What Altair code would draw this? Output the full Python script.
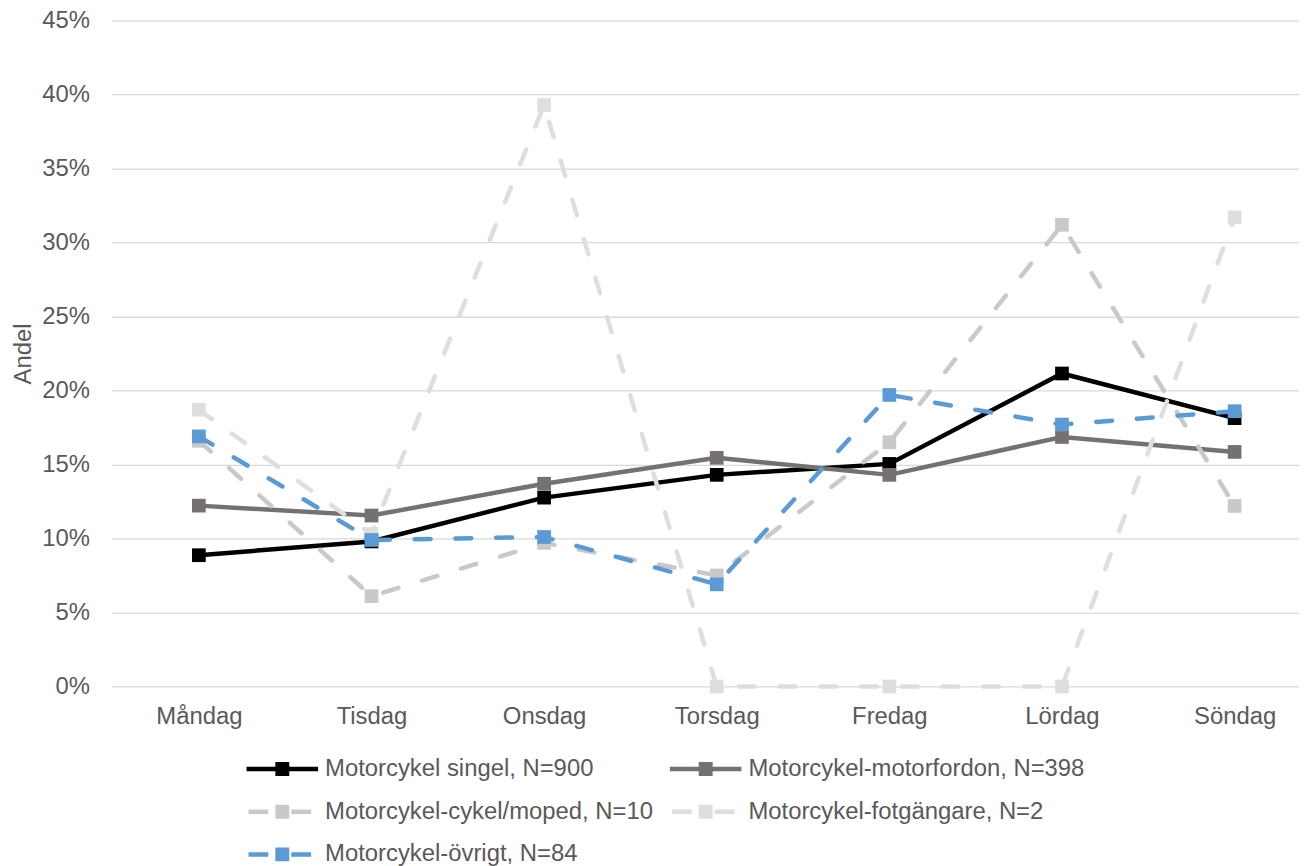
import altair as alt
import pandas as pd

days = ["Måndag", "Tisdag", "Onsdag", "Torsdag", "Fredag", "Lördag", "Söndag"]

series_names = [
    "Motorcykel singel, N=900",
    "Motorcykel-motorfordon, N=398",
    "Motorcykel-cykel/moped, N=10",
    "Motorcykel-fotgängare, N=2",
    "Motorcykel-övrigt, N=84",
]

singel = [0.0887, 0.098, 0.1276, 0.143, 0.1504, 0.2115, 0.1813]
motorfordon = [0.1222, 0.1155, 0.137, 0.1545, 0.143, 0.1686, 0.1585]
cykel_moped = [0.166, 0.061, 0.097, 0.075, 0.165, 0.312, 0.122]
fotgangare = [0.187, 0.103, 0.393, 0.0, 0.0, 0.0, 0.317]
ovrigt = [0.169, 0.099, 0.101, 0.069, 0.197, 0.177, 0.186]

colors = ["#000000", "#767171", "#C9C9C9", "#DEDEDE", "#5B9BD5"]
dashed = [False, False, True, True, True]

all_values = [singel, motorfordon, cykel_moped, fotgangare, ovrigt]
rows = []
for name, vals in zip(series_names, all_values):
    for d, v in zip(days, vals):
        rows.append({"dag": d, "serie": name, "andel": v})
df = pd.DataFrame(rows)

text_color = "#595959"
font = "Liberation Sans"

x_enc = alt.X(
    "dag:N",
    sort=days,
    scale=alt.Scale(type="point", domain=days, padding=0.44, align=0.576),
    axis=alt.Axis(
        title=None, labelAngle=0, labelFontSize=24, labelColor=text_color,
        labelFont=font, domain=False, ticks=False, labelPadding=18, grid=False,
    ),
)
y_enc = alt.Y(
    "andel:Q",
    scale=alt.Scale(domain=[0, 0.45], nice=False, zero=True),
    axis=alt.Axis(
        title="Andel", format=".0%", values=[i * 0.05 for i in range(10)],
        labelFontSize=24, labelColor=text_color, labelFont=font,
        titleFontSize=24, titleColor=text_color, titleFont=font,
        titleFontWeight="normal", titlePadding=6,
        domain=False, ticks=False, labelPadding=22,
        grid=True, gridColor="#D9D9D9", gridWidth=1.3,
    ),
)

layers = []
for name, col, dsh in zip(series_names, colors, dashed):
    base = alt.Chart(df).transform_filter(alt.datum.serie == name)
    line_kwargs = dict(color=col, strokeWidth=4.5)
    if dsh:
        line_kwargs.update(strokeDash=[16, 25], strokeCap="round")
    layers.append(base.mark_line(**line_kwargs).encode(x=x_enc, y=y_enc))
    layers.append(
        base.mark_point(shape="square", filled=True, opacity=1, size=190, color=col)
        .encode(x=x_enc, y=y_enc)
    )

# legend symbols: unit = 12 px (symbolSize 576)
solid_path = (
    "M-3,-0.1875H3V0.1875H-3Z "
    "M-0.583,-0.583H0.583V0.583H-0.583Z"
)
dash_path = (
    "M-2.83,-0.1875H-1.17V0.1875H-2.83Z "
    "M-0.583,-0.583H0.583V0.583H-0.583Z "
    "M0.75,-0.1875H2.42V0.1875H0.75Z"
)
shape_range = [dash_path if d else solid_path for d in dashed]

legend_layer = (
    alt.Chart(df)
    .transform_filter("datum.andel < -1")
    .mark_point(filled=True, opacity=1, strokeWidth=0)
    .encode(
        x=x_enc,
        y=y_enc,
        color=alt.Color(
            "serie:N",
            scale=alt.Scale(domain=series_names, range=colors),
            legend=alt.Legend(
                title=None, orient="none", legendX=136, legendY=741,
                columns=2, direction="horizontal",
                labelFontSize=24, labelColor=text_color, labelFont=font,
                labelLimit=0, labelOffset=31, symbolOffset=24, symbolSize=576,
                symbolStrokeWidth=0, rowPadding=19, columnPadding=16,
                symbolOpacity=1,
            ),
        ),
        shape=alt.Shape(
            "serie:N",
            scale=alt.Scale(domain=series_names, range=shape_range),
            legend=None,
        ),
    )
)

chart = (
    alt.layer(*layers, legend_layer)
    .properties(
        width=1195,
        height=670,
        padding={"left": 104, "top": 10, "right": 0, "bottom": 178},
        autosize=alt.AutoSizeParams(type="none"),
        background="white",
    )
    .configure_view(stroke=None)
)

chart.save("out.html", embed_options={"renderer": "svg", "actions": False})
